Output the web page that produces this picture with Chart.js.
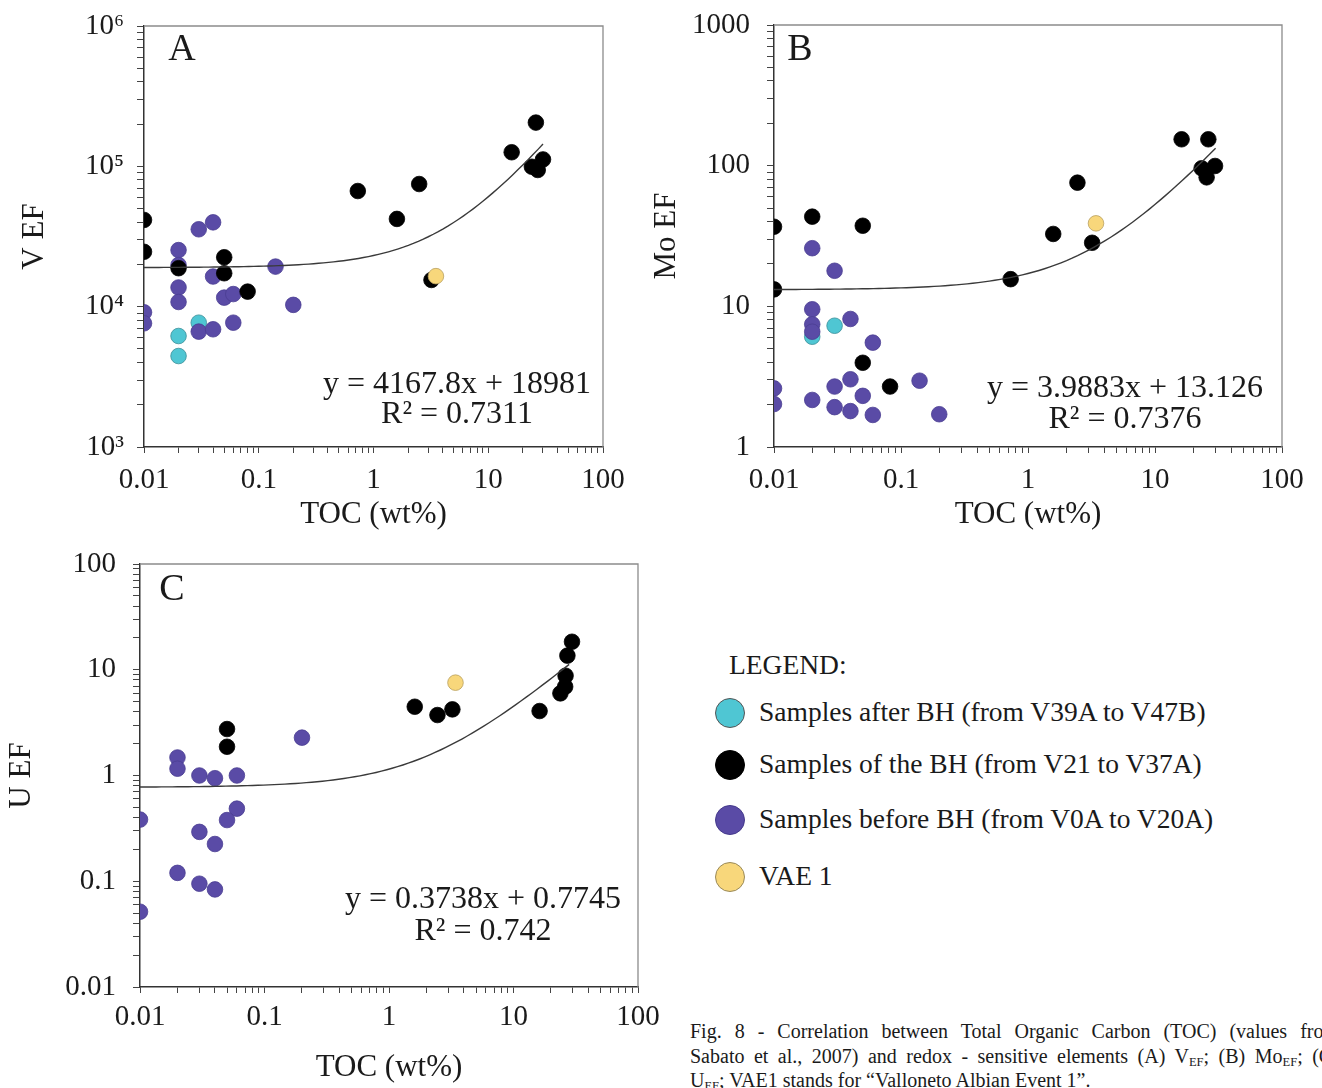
<!DOCTYPE html>
<html><head><meta charset="utf-8">
<script src="https://cdn.jsdelivr.net/npm/chart.js@4.4.1/dist/chart.umd.min.js"></script>
<style>
html,body{margin:0;padding:0;background:#fff;width:1322px;height:1088px;overflow:hidden;font-family:"Liberation Serif","Times New Roman",serif;color:#1a1a1a;}
.cv{position:absolute;}
.lg{position:absolute;font-size:27.5px;line-height:30px;white-space:nowrap;}
.dot{position:absolute;width:30px;height:30px;border-radius:50%;box-sizing:border-box;border:1.5px solid #555;}
.cap{position:absolute;left:690px;font-size:20px;line-height:24px;white-space:nowrap;}
.cap sub{font-size:12.5px;vertical-align:-3px;line-height:0;word-spacing:0;}
</style></head><body>
<canvas id="cA" class="cv" style="left:0;top:-4px" width="640" height="544"></canvas>
<canvas id="cB" class="cv" style="left:640px;top:-9px" width="682" height="549"></canvas>
<canvas id="cC" class="cv" style="left:0;top:530px" width="680" height="558"></canvas>

<div class="lg" style="left:729px;top:650px">LEGEND:</div>
<div class="dot" style="left:715px;top:698px;background:#4fc6d3"></div>
<div class="lg" style="left:759px;top:697px">Samples after BH (from V39A to V47B)</div>
<div class="dot" style="left:715px;top:750px;background:#000;border-color:#000"></div>
<div class="lg" style="left:759px;top:749px">Samples of the BH (from V21 to V37A)</div>
<div class="dot" style="left:715px;top:805px;background:#5a4ba6;border-color:#453a8c"></div>
<div class="lg" style="left:759px;top:804px">Samples before BH (from V0A to V20A)</div>
<div class="dot" style="left:715px;top:862px;background:#f8d77b;border-color:#9a8a5a"></div>
<div class="lg" style="left:759px;top:861px">VAE 1</div>

<div class="cap" style="top:1019px;word-spacing:8px">Fig. 8 - Correlation between Total Organic Carbon (TOC) (values from</div>
<div class="cap" style="top:1044px;word-spacing:4.5px">Sabato et al., 2007) and redox - sensitive elements (A) V<sub>EF</sub>; (B) Mo<sub>EF</sub>; (C)</div>
<div class="cap" style="top:1068px">U<sub>EF</sub>; VAE1 stands for “Valloneto Albian Event 1”.</div>

<script>
// ---------- DATA ----------
const xTickLabels = ['0.01', '0.1', '1', '10', '100'];
const aTickLabels = ['10³', '10⁴', '10⁵', '10⁶'];
const bTickLabels = ['1', '10', '100', '1000'];
const cTickLabels = ['0.01', '0.1', '1', '10', '100'];

// Panel A: V EF
const aBlackX  = [0.01, 0.01, 0.02, 0.05, 0.05, 0.08, 0.73, 1.6, 2.5, 3.2, 16, 26, 30, 24, 27];
const aBlackY  = [41500, 24600, 18800, 22500, 17300, 12800, 66700, 42200, 74800, 15500, 126000, 205000, 112000, 99300, 94200];
const aPurpleX = [0.01, 0.01, 0.02, 0.02, 0.02, 0.02, 0.03, 0.04, 0.04, 0.03, 0.04, 0.05, 0.06, 0.06, 0.14, 0.2];
const aPurpleY = [9120, 7610, 25300, 19800, 13700, 10800, 35600, 39900, 16400, 6640, 6900, 11600, 12300, 7690, 19300, 10300];
const aCyanX   = [0.02, 0.02, 0.03];
const aCyanY   = [6180, 4450, 7690];
const aYellowX = [3.5];
const aYellowY = [16500];
const aTrend   = [4167.8, 18981];
const aTrendX  = [0.01, 30];
const aEq      = ['y = 4167.8x + 18981', 'R² = 0.7311'];

// Panel B: Mo EF
const bBlackX  = [0.01, 0.02, 0.05, 0.01, 0.05, 0.082, 0.73, 1.58, 2.45, 3.2, 16.2, 26.3, 23.3, 25.5, 29.7];
const bBlackY  = [36.8, 43.4, 37.4, 13.2, 3.97, 2.69, 15.6, 32.7, 75.7, 28.3, 154, 154, 95.8, 82.6, 99.5];
const bPurpleX = [0.02, 0.03, 0.02, 0.02, 0.02, 0.04, 0.06, 0.01, 0.01, 0.02, 0.03, 0.03, 0.04, 0.04, 0.05, 0.06, 0.14, 0.2];
const bPurpleY = [25.9, 17.9, 9.53, 7.45, 6.6, 8.13, 5.52, 2.61, 2.02, 2.16, 2.69, 1.92, 3.03, 1.8, 2.31, 1.69, 2.96, 1.71];
const bCyanX   = [0.03, 0.02];
const bCyanY   = [7.28, 6.08];
const bYellowX = [3.43];
const bYellowY = [38.9];
const bTrend   = [3.9883, 13.126];
const bTrendX  = [0.01, 30];
const bEq      = ['y = 3.9883x + 13.126', 'R² = 0.7376'];

// Panel C: U EF
const cBlackX  = [0.05, 0.05, 1.61, 2.45, 3.23, 16.2, 29.5, 27.1, 26.2, 26.0, 23.8];
const cBlackY  = [2.75, 1.87, 4.47, 3.73, 4.22, 4.07, 18.4, 13.6, 8.78, 6.92, 5.98];
const cPurpleX = [0.2, 0.02, 0.02, 0.03, 0.04, 0.06, 0.06, 0.05, 0.01, 0.03, 0.04, 0.02, 0.03, 0.04, 0.01];
const cPurpleY = [2.28, 1.48, 1.16, 1.0, 0.943, 1.0, 0.486, 0.379, 0.383, 0.293, 0.225, 0.12, 0.0948, 0.0837, 0.0515];
const cCyanX   = [];
const cCyanY   = [];
const cYellowX = [3.42];
const cYellowY = [7.55];
const cTrend   = [0.3738, 0.7745];
const cTrendX  = [0.01, 28];
const cEq      = ['y = 0.3738x + 0.7745', 'R² = 0.742'];

// ---------- HELPERS ----------
const FONT = '"Liberation Serif", "Times New Roman", serif';
const INK = '#1a1a1a';
const pts = (xs, ys) => xs.map((x, i) => ({x: x, y: ys[i]}));
// fitted trend line y = a*x + b, evaluated along the log x axis
function trendPts(coef, range) {
  const out = [];
  const n = 80;
  const l0 = Math.log10(range[0]), l1 = Math.log10(range[1]);
  for (let i = 0; i <= n; i++) {
    const x = Math.pow(10, l0 + (l1 - l0) * i / n);
    out.push({x: x, y: coef[0] * x + coef[1]});
  }
  return out;
}
function logTicks(minExp, maxExp) {
  const t = [];
  for (let e = minExp; e < maxExp; e++) for (let k = 1; k <= 9; k++) t.push({value: k * Math.pow(10, e)});
  t.push({value: Math.pow(10, maxExp)});
  return t;
}
function decadeLabel(v, labels, minExp) {
  const l = Math.log10(v), r = Math.round(l);
  if (Math.abs(l - r) > 1e-6) return '';
  return labels[r - minExp] || '';
}

const frame = {
  id: 'frame',
  afterDatasetsDraw(chart, args, o) {
    const ctx = chart.ctx, a = chart.chartArea;
    ctx.save();
    ctx.strokeStyle = '#8c8c8c'; ctx.lineWidth = 1.3;
    ctx.beginPath(); ctx.moveTo(a.left, a.top); ctx.lineTo(a.right, a.top); ctx.lineTo(a.right, a.bottom); ctx.stroke();
    ctx.fillStyle = INK; ctx.textAlign = 'center'; ctx.textBaseline = 'middle';
    ctx.font = '38px ' + FONT;
    ctx.fillText(o.letter, o.lx, o.ly);
    ctx.font = '32px ' + FONT;
    ctx.fillText(o.eq[0], o.ex, o.ey1);
    ctx.fillText(o.eq[1], o.ex, o.ey2);
    ctx.restore();
  }
};

function makeChart(id, p) {
  const ds = [
    {type: 'line', data: trendPts(p.trend, p.trendX), borderColor: '#3a3a3a', borderWidth: 1.4, pointRadius: 0, fill: false, tension: 0},
    {data: pts(p.yx, p.yy), backgroundColor: '#f8d77b', borderColor: '#b8a060', borderWidth: 0.8, pointRadius: 7.8},
    {data: pts(p.bx, p.by), backgroundColor: '#000000', borderColor: '#000000', borderWidth: 0.8, pointRadius: 7.8},
    {data: pts(p.px, p.py), backgroundColor: '#5a4ba6', borderColor: '#4a3d92', borderWidth: 0.8, pointRadius: 7.8},
    {data: pts(p.cx, p.cy), backgroundColor: '#4fc6d3', borderColor: '#3a8e98', borderWidth: 0.8, pointRadius: 7.8}
  ];
  new Chart(document.getElementById(id), {
    type: 'scatter',
    data: {datasets: ds},
    options: {
      responsive: false, animation: false, events: [],
      layout: {padding: p.pad},
      plugins: {legend: {display: false}, tooltip: {enabled: false}, frame: p.annot},
      scales: {
        x: {
          type: 'logarithmic', position: 'bottom', min: 0.01, max: 100,
          afterBuildTicks: s => { s.ticks = logTicks(-2, 2); },
          afterFit: s => { s.height = p.xh; },
          ticks: {autoSkip: false, maxRotation: 0, minRotation: 0, padding: p.xpad, color: INK,
                  font: {family: FONT, size: 29, lineHeight: '34px'}, callback: v => decadeLabel(v, xTickLabels, -2)},
          grid: {display: true, drawOnChartArea: false, drawTicks: true, tickLength: 6, color: '#444', tickColor: '#444', lineWidth: 1},
          border: {display: true, color: '#333', width: 1.5},
          title: {display: true, text: 'TOC (wt%)', color: INK, padding: 0, font: {family: FONT, size: 31, lineHeight: '36px'}}
        },
        y: {
          type: 'logarithmic', position: 'left', min: p.ymin, max: p.ymax,
          afterBuildTicks: s => { s.ticks = logTicks(p.yExp[0], p.yExp[1]); },
          afterFit: s => { s.width = p.yw; },
          ticks: {autoSkip: false, padding: p.ypad, color: INK,
                  font: {family: FONT, size: 29, lineHeight: '34px'}, callback: v => decadeLabel(v, p.yLabels, p.yExp[0])},
          grid: {display: true, drawOnChartArea: false, drawTicks: true, tickLength: 7, color: '#444', tickColor: '#444', lineWidth: 1},
          border: {display: true, color: '#333', width: 1.5},
          title: {display: true, text: p.ytitle, color: INK, padding: 0, font: {family: FONT, size: 31, lineHeight: '36px'}}
        }
      }
    },
    plugins: [frame]
  });
}

makeChart('cA', {
  trend: aTrend, trendX: aTrendX, yx: aYellowX, yy: aYellowY, bx: aBlackX, by: aBlackY, px: aPurpleX, py: aPurpleY, cx: aCyanX, cy: aCyanY,
  pad: {left: 17, top: 0, right: 37, bottom: 7}, xh: 86, yw: 127, xpad: 10, ypad: 13,
  ymin: 1000, ymax: 1e6, yExp: [3, 6], yLabels: aTickLabels, ytitle: 'V EF',
  annot: {letter: 'A', lx: 182, ly: 54, eq: aEq, ex: 457, ey1: 389, ey2: 419}
});
makeChart('cB', {
  trend: bTrend, trendX: bTrendX, yx: bYellowX, yy: bYellowY, bx: bBlackX, by: bBlackY, px: bPurpleX, py: bPurpleY, cx: bCyanX, cy: bCyanY,
  pad: {left: 9, top: 0, right: 40, bottom: 7}, xh: 86, yw: 125, xpad: 10, ypad: 17,
  ymin: 1, ymax: 1000, yExp: [0, 3], yLabels: bTickLabels, ytitle: 'Mo EF',
  annot: {letter: 'B', lx: 160, ly: 59, eq: bEq, ex: 485, ey1: 398, ey2: 429}
});
makeChart('cC', {
  trend: cTrend, trendX: cTrendX, yx: cYellowX, yy: cYellowY, bx: cBlackX, by: cBlackY, px: cPurpleX, py: cPurpleY, cx: cCyanX, cy: cCyanY,
  pad: {left: 4, top: 0, right: 42, bottom: 2}, xh: 99, yw: 136, xpad: 7, ypad: 17,
  ymin: 0.01, ymax: 100, yExp: [-2, 2], yLabels: cTickLabels, ytitle: 'U EF',
  annot: {letter: 'C', lx: 172, ly: 60, eq: cEq, ex: 483, ey1: 370, ey2: 402}
});
</script>
</body></html>
